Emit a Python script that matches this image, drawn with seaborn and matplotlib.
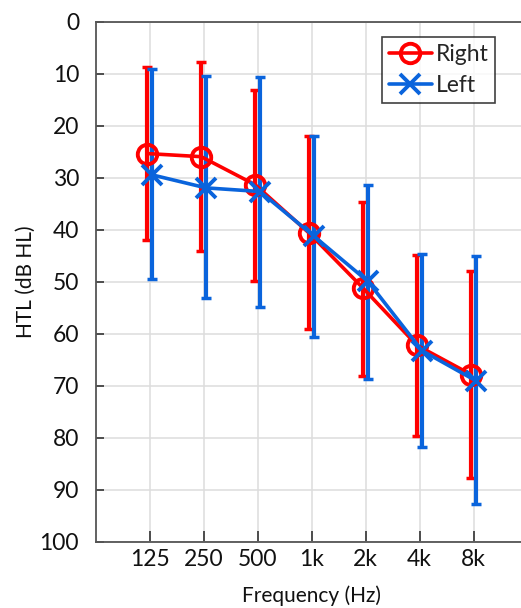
import matplotlib
matplotlib.use("Agg")
import matplotlib.pyplot as plt
import numpy as np
import pandas as pd
import seaborn as sns

freq_labels = ["125", "250", "500", "1k", "2k", "4k", "8k"]
right_mean = [25.3, 25.9, 31.3, 40.6, 51.2, 62.2, 67.8]
right_upper = [8.7, 7.7, 13.1, 22.0, 34.6, 44.9, 47.9]   # top whisker (lower dB)
right_lower = [41.9, 44.1, 49.8, 59.1, 68.0, 79.6, 87.6]  # bottom whisker
left_mean = [29.4, 31.9, 32.6, 41.2, 49.9, 63.2, 69.0]
left_upper = [9.0, 10.4, 10.5, 22.0, 31.4, 44.6, 45.0]
left_lower = [49.4, 53.1, 54.8, 60.5, 68.6, 81.8, 92.7]
y_ticks = [0, 10, 20, 30, 40, 50, 60, 70, 80, 90, 100]

RED = "#FF0000"
BLUE = "#0A64DC"

sns.set_theme(style="white")
plt.rcParams["font.family"] = ["Lato", "DejaVu Sans"]

fig = plt.figure(figsize=(5.21, 6.08), dpi=100)
ax = fig.add_axes([95.7 / 521, 66 / 608, (527.5 - 95.7) / 521, 520 / 608])

idx = np.arange(len(freq_labels))
dodge = 0.045
series = [
    ("Right", right_mean, right_upper, right_lower, RED, "o", -dodge),
    ("Left", left_mean, left_upper, left_lower, BLUE, "x", dodge),
]

for name, mean, up, lo, color, mk, off in series:
    x = idx + off
    mean = np.array(mean)
    yerr = np.vstack([mean - np.array(up), np.array(lo) - mean])
    ax.errorbar(x, mean, yerr=yerr, fmt="none", ecolor=color, elinewidth=3,
                capsize=3.5, capthick=2.5, zorder=3)
    df = pd.DataFrame({"x": x, "y": mean})
    sns.lineplot(data=df, x="x", y="y", ax=ax, color=color, linewidth=2.6,
                 marker=mk, markersize=14 if mk == "o" else 15,
                 markerfacecolor="none" if mk == "o" else color,
                 markeredgecolor=color, markeredgewidth=2.8,
                 label=name, zorder=4, sort=False)

ax.set_xlim(-1, 7)
ax.set_ylim(100, 0)
ax.set_xticks(idx)
ax.set_xticklabels(freq_labels)
ax.set_yticks(y_ticks)
ax.grid(True, color="#DDDDDD", linewidth=1.1)
ax.set_axisbelow(True)

for s in ["left", "bottom", "top"]:
    ax.spines[s].set_color("#555555")
    ax.spines[s].set_linewidth(1.3)
ax.spines["right"].set_visible(False)

ax.tick_params(axis="both", direction="in", length=6, width=1.2, color="#333333",
               labelsize=16.5, labelcolor="#111111")
ax.tick_params(axis="y", left=True, pad=12)
ax.tick_params(axis="x", bottom=True, length=8, pad=5)

ax.set_xlabel("Frequency (Hz)", fontsize=15, color="#111111", labelpad=11)
ax.set_ylabel("HTL (dB HL)", fontsize=15, color="#111111", labelpad=3)

leg = ax.legend(loc="upper right", bbox_to_anchor=((495.3 - 95.7) / (527.5 - 95.7), 1 - 14.7 / 520),
                fontsize=16.5, frameon=True, fancybox=False, edgecolor="#111111",
                handlelength=1.9, handletextpad=0.15, borderpad=0.3, labelspacing=0.45,
                borderaxespad=0.0)
leg.get_frame().set_linewidth(1.2)

fig.savefig("out.png", dpi=100)
